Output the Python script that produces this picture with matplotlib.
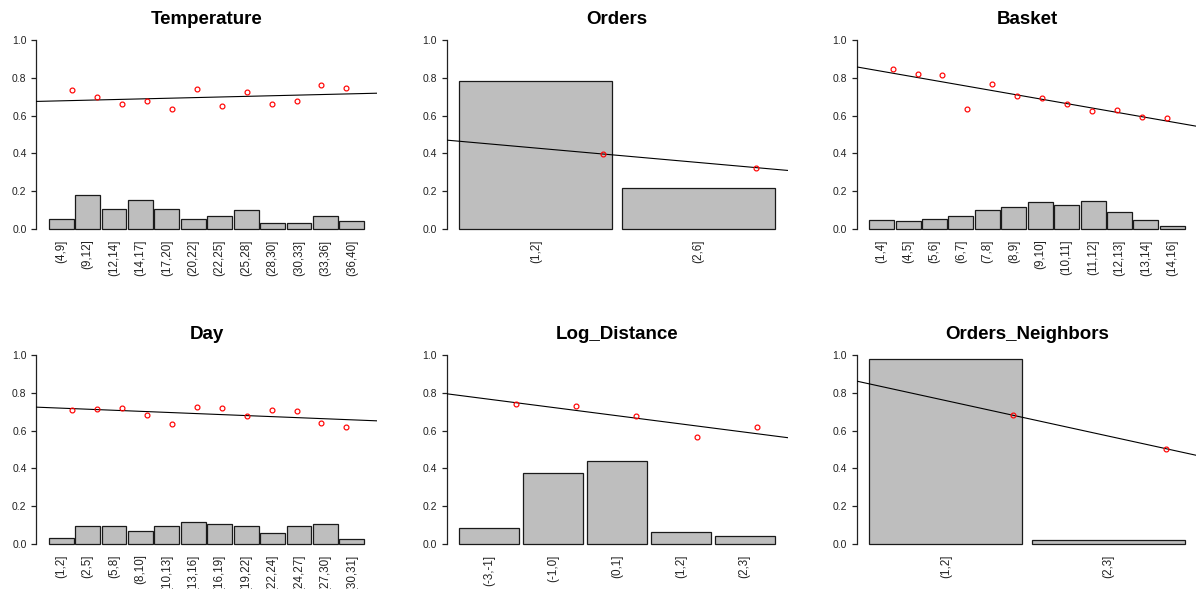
import numpy as np
import matplotlib
matplotlib.use("Agg")
import matplotlib.pyplot as plt

plt.rcParams['font.family'] = ['Liberation Sans', 'DejaVu Sans']

# ---------------- data ----------------
temp_labels = ["(4,9]", "(9,12]", "(12,14]", "(14,17]", "(17,20]", "(20,22]",
               "(22,25]", "(25,28]", "(28,30]", "(30,33]", "(33,36]", "(36,40]"]
temp_share = [0.053, 0.178, 0.109, 0.153, 0.109, 0.056, 0.067, 0.100, 0.030, 0.034, 0.072, 0.041]
temp_rate = [0.734, 0.700, 0.661, 0.675, 0.637, 0.739, 0.651, 0.723, 0.661, 0.675, 0.762, 0.748]

orders_labels = ["(1,2]", "(2,6]"]
orders_share = [0.785, 0.215]
orders_rate = [0.397, 0.325]

basket_labels = ["(1,4]", "(4,5]", "(5,6]", "(6,7]", "(7,8]", "(8,9]", "(9,10]",
                 "(10,11]", "(11,12]", "(12,13]", "(13,14]", "(14,16]"]
basket_share = [0.047, 0.041, 0.052, 0.070, 0.100, 0.119, 0.144, 0.130, 0.147, 0.091, 0.047, 0.015]
basket_rate = [0.848, 0.820, 0.815, 0.633, 0.765, 0.704, 0.695, 0.661, 0.623, 0.630, 0.594, 0.586]

day_labels = ["(1,2]", "(2,5]", "(5,8]", "(8,10]", "(10,13]", "(13,16]", "(16,19]",
              "(19,22]", "(22,24]", "(24,27]", "(27,30]", "(30,31]"]
day_share = [0.034, 0.098, 0.098, 0.071, 0.098, 0.119, 0.104, 0.098, 0.057, 0.098, 0.104, 0.025]
day_rate = [0.710, 0.715, 0.718, 0.681, 0.634, 0.724, 0.718, 0.676, 0.710, 0.706, 0.639, 0.618]

logd_labels = ["(-3,-1]", "(-1,0]", "(0,1]", "(1,2]", "(2,3]"]
logd_share = [0.086, 0.374, 0.438, 0.062, 0.043]
logd_rate = [0.741, 0.729, 0.676, 0.565, 0.618]

on_labels = ["(1,2]", "(2,3]"]
on_share = [0.980, 0.022]
on_rate = [0.681, 0.504]

panels = [
    ("Temperature", temp_labels, temp_share, temp_rate),
    ("Orders", orders_labels, orders_share, orders_rate),
    ("Basket", basket_labels, basket_share, basket_rate),
    ("Day", day_labels, day_share, day_rate),
    ("Log_Distance", logd_labels, logd_share, logd_rate),
    ("Orders_Neighbors", on_labels, on_share, on_rate),
]

# ---------------- layout ----------------
W, H = 1196, 589
fig = plt.figure(figsize=(W / 100, H / 100), dpi=100)
fig.patch.set_facecolor("white")

col_left = [36, 446.5, 856.5]
col_width = 341
row_top = [32.4, 347.4]
row_height = 204.3

SPACE = 0.06

for k, (title, labels, share, rate) in enumerate(panels):
    r, c = divmod(k, 3)
    left = col_left[c] / W
    bottom = (H - row_top[r] - row_height) / H
    ax = fig.add_axes([left, bottom, col_width / W, row_height / H])

    n = len(labels)
    lefts = SPACE + np.arange(n) * (1 + SPACE)
    ax.bar(lefts, share, width=1.0, align="edge", color="#BEBEBE",
           edgecolor="#1a1a1a", linewidth=0.9, zorder=2)

    xs = np.arange(1, n + 1)
    ax.plot(xs, rate, linestyle="none", marker="o", markersize=3.5,
            markerfacecolor="none", markeredgecolor="#FF0000",
            markeredgewidth=0.85, zorder=4)

    slope, intercept = np.polyfit(xs, rate, 1)
    ax.axline((0, intercept), slope=slope, color="black", linewidth=0.8, zorder=3)

    span = n * (1 + SPACE) - SPACE
    ax.set_xlim(SPACE - 0.04 * span, n * (1 + SPACE) + 0.04 * span)
    ax.set_ylim(-0.04, 1.04)

    for s in ["top", "right", "bottom"]:
        ax.spines[s].set_visible(False)
    ax.spines["left"].set_bounds(0, 1)
    ax.spines["left"].set_linewidth(0.9)
    ax.spines["left"].set_color("#222222")

    ax.set_yticks([0, 0.2, 0.4, 0.6, 0.8, 1.0])
    ax.set_yticklabels(["0.0", "0.2", "0.4", "0.6", "0.8", "1.0"])
    ax.tick_params(axis="y", direction="out", length=3.6, width=0.9,
                   color="#222222", labelsize=7.5, pad=3.2, labelcolor="#222222")

    ax.set_xticks(lefts + 0.5)
    ax.set_xticklabels(labels, rotation=90, va="top", ha="center")
    ax.tick_params(axis="x", length=0, labelsize=8.4, pad=2.0, labelcolor="#222222")

    ax.set_title(title, fontsize=13.5, fontweight="bold", pad=6)
    ax.patch.set_visible(False)

fig.savefig("out.png", dpi=100, facecolor="white")
